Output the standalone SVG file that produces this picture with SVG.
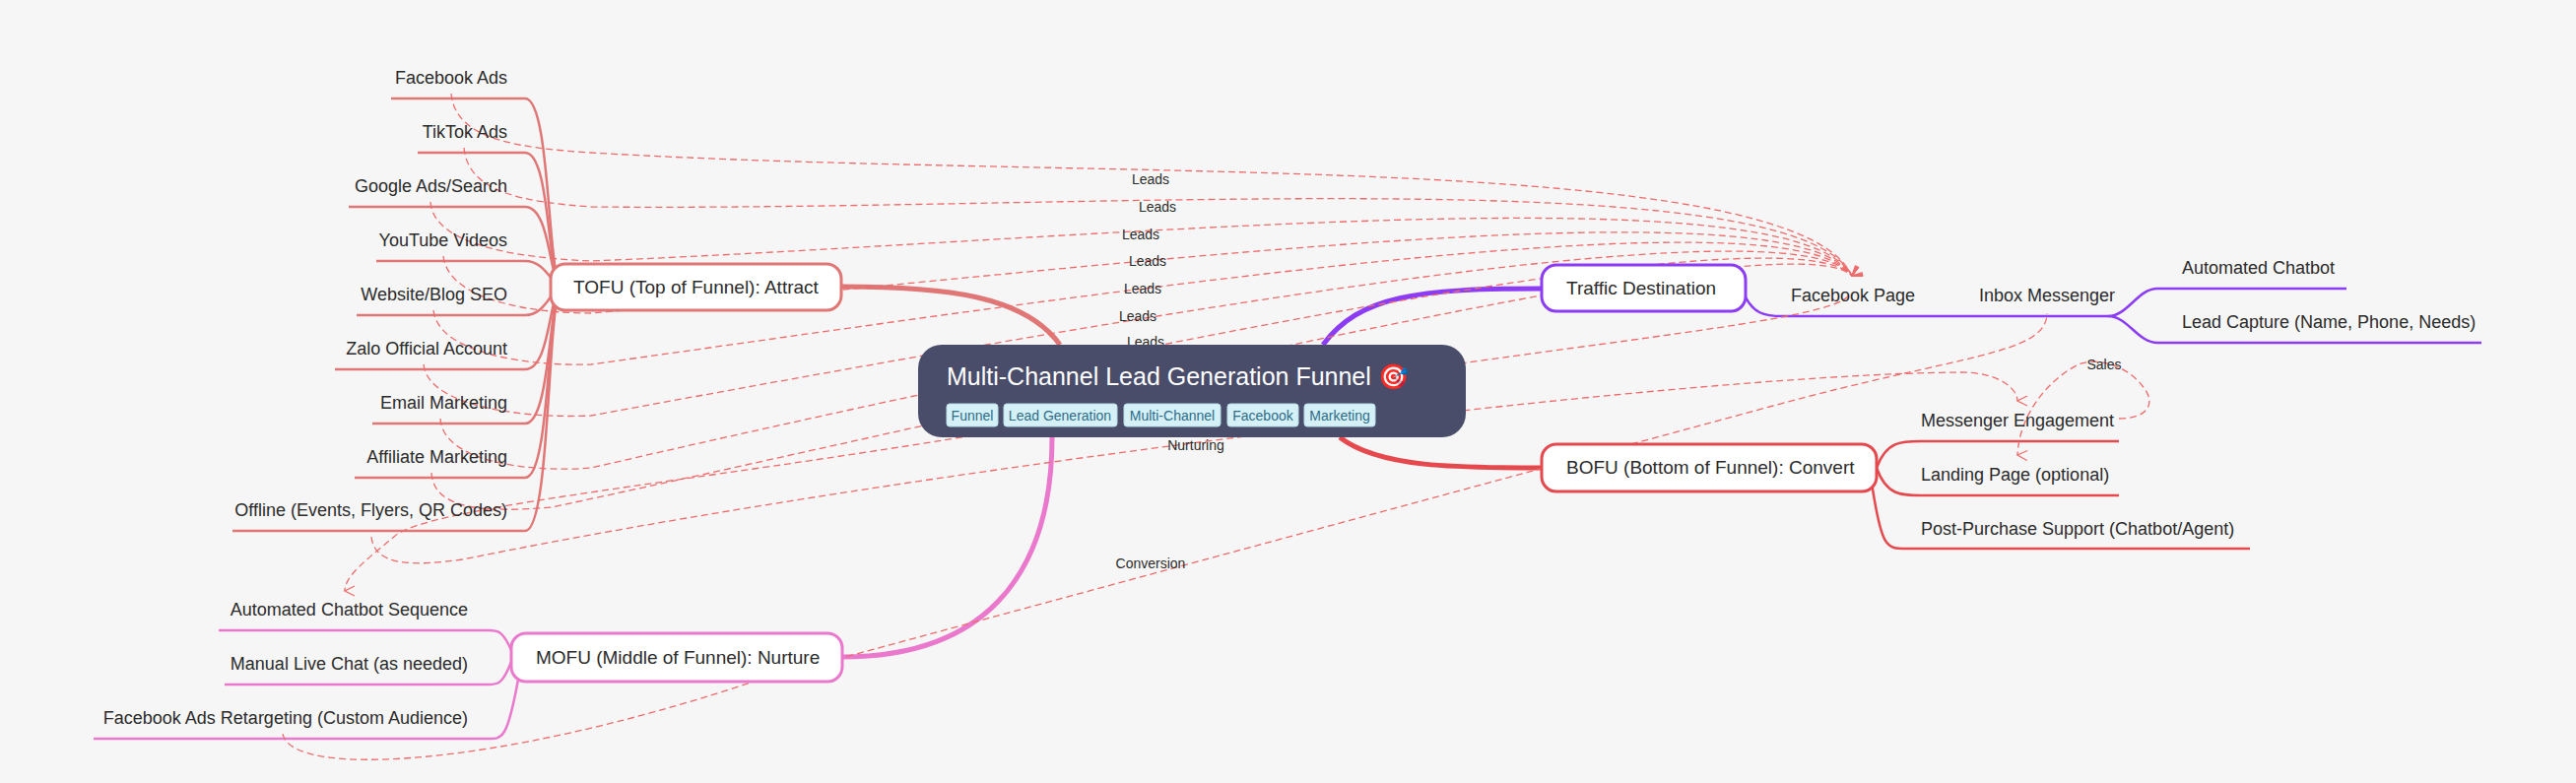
<svg xmlns="http://www.w3.org/2000/svg" width="2615" height="795" viewBox="0 0 2615 795">
<defs>
<marker id="arr" viewBox="0 0 12 12" refX="6" refY="11" markerWidth="12" markerHeight="12" orient="auto-start-reverse" markerUnits="userSpaceOnUse">
<path d="M1,1 L6,11 L11,1" fill="none" stroke="#ef6b6b" stroke-width="1.2"/>
</marker>
<style>
text{font-family:"Liberation Sans",Arial,sans-serif;fill:#2b2b2b}
.k{font-size:18px}
.r{text-anchor:end}
.n{font-size:19px}
.lbl{font-size:14px;text-anchor:middle}
.rel{fill:none;stroke:#ef6b6b;stroke-width:1.3;stroke-dasharray:7 4}
.b{fill:none;stroke-width:2.5}
.w{stroke-width:5}
.t{stroke:#e07676}.p{stroke:#8b3cf4}.d{stroke:#e5484d}.m{stroke:#ea78cc}
.tag{fill:#d5f0f7;stroke:#b9dfe9}
.tt{font-size:14px;fill:#2d6d88}
</style>
</defs>
<rect width="2615" height="795" fill="#f6f6f6"/>
<g id="branches">
<path class="b w t" d="M1076,350 C1040,300 960,291 854,291"/>
<path class="b w p" d="M1343,350 C1380,300 1440,293 1565,293"/>
<path class="b w d" d="M1360,444 C1400,475 1480,475 1565,475"/>
<path class="b w m" d="M1068,444 C1068,560 1020,667 855,667"/>
<path class="b t" d="M571,291 C555,291 560,100 533,100 H397"/>
<path class="b t" d="M571,291 C555,291 560,155 533,155 H424"/>
<path class="b t" d="M571,291 C557,291 560,210 533,210 H354"/>
<path class="b t" d="M571,291 C560,291 555,265 533,265 H382"/>
<path class="b t" d="M571,291 C560,291 555,320 533,320 H362"/>
<path class="b t" d="M571,291 C557,291 560,375 533,375 H340"/>
<path class="b t" d="M571,291 C557,291 560,430 533,430 H378"/>
<path class="b t" d="M571,291 C555,291 560,485 533,485 H360"/>
<path class="b t" d="M571,291 C555,291 560,539 533,539 H236"/>
<path class="b p" d="M1771,300 C1780,318 1790,321 1810,321 H2140 C2160,321 2170,293 2190,293 H2382"/>
<path class="b p" d="M2140,321 C2160,321 2170,348 2190,348 H2519"/>
<path class="b d" d="M1905,475 C1915,448 1930,448 1950,448 H2151"/>
<path class="b d" d="M1905,475 C1915,503 1930,503 1950,503 H2151"/>
<path class="b d" d="M1900,490 C1910,557 1915,557 1935,557 H2284"/>
<path class="b m" d="M519,660 C510,640 505,640 496,640 H222"/>
<path class="b m" d="M519,672 C510,695 505,695 496,695 H228"/>
<path class="b m" d="M526,690 C515,750 510,750 496,750 H95"/>
</g>
<g id="relations">
<path class="rel" marker-end="url(#arr)" d="M458,95 C462,140 520,150 600,155 C1100,185 1820,150 1880,280"/>
<path class="rel" marker-end="url(#arr)" d="M471,150 C475,195 530,205 600,210 C1100,215 1820,160 1880,280"/>
<path class="rel" marker-end="url(#arr)" d="M437,205 C440,250 530,262 600,265 C1100,245 1820,170 1880,280"/>
<path class="rel" marker-end="url(#arr)" d="M450,260 C455,305 540,318 600,318 C1100,275 1820,180 1880,280"/>
<path class="rel" marker-end="url(#arr)" d="M440,315 C445,360 540,372 600,370 C1100,300 1820,190 1880,280"/>
<path class="rel" marker-end="url(#arr)" d="M430,370 C435,415 540,425 600,422 C1100,330 1820,200 1880,280"/>
<path class="rel" marker-end="url(#arr)" d="M447,425 C450,470 540,480 600,475 C1100,360 1820,210 1880,280"/>
<path class="rel" marker-end="url(#arr)" d="M438,480 C440,520 500,520 560,515 C1100,400 1820,220 1880,280"/>
<path class="rel" marker-end="url(#arr)" d="M377,545 C380,575 420,575 470,568 C900,480 1700,380 1990,378 C2030,378 2048,395 2048,407"/>
<path class="rel" marker-end="url(#arr)" d="M1877,300 C1850,330 1600,345 1000,440 C700,490 430,515 400,545 C370,570 350,585 350,600"/>
<path class="rel" d="M287,745 C295,790 500,780 762,693 L1800,412 C1990,360 2078,360 2078,318"/>
<path class="rel" marker-end="url(#arr)" d="M2151,425 C2180,425 2190,410 2175,392 C2160,372 2130,362 2110,370 C2080,385 2050,420 2048,462"/>
<text class="lbl" x="1168" y="187">Leads</text>
<text class="lbl" x="1175" y="215">Leads</text>
<text class="lbl" x="1158" y="243">Leads</text>
<text class="lbl" x="1165" y="270">Leads</text>
<text class="lbl" x="1160" y="298">Leads</text>
<text class="lbl" x="1155" y="326">Leads</text>
<text class="lbl" x="1163" y="352">Leads</text>
<text class="lbl" x="1214" y="457">Nurturing</text>
<text class="lbl" x="1168" y="577">Conversion</text>
<text class="lbl" x="2136" y="375">Sales</text>
</g>
<g id="tofu-children">
<text class="k r" x="515" y="85">Facebook Ads</text>
<text class="k r" x="515" y="140">TikTok Ads</text>
<text class="k r" x="515" y="195">Google Ads/Search</text>
<text class="k r" x="515" y="250">YouTube Videos</text>
<text class="k r" x="515" y="305">Website/Blog SEO</text>
<text class="k r" x="515" y="360">Zalo Official Account</text>
<text class="k r" x="515" y="415">Email Marketing</text>
<text class="k r" x="515" y="470">Affiliate Marketing</text>
<text class="k r" x="515" y="524">Offline (Events, Flyers, QR Codes)</text>
</g>
<g id="mofu-children">
<text class="k r" x="475" y="625">Automated Chatbot Sequence</text>
<text class="k r" x="475" y="680">Manual Live Chat (as needed)</text>
<text class="k r" x="475" y="735">Facebook Ads Retargeting (Custom Audience)</text>
</g>
<g id="traffic-children">
<text class="k" x="1818" y="306">Facebook Page</text>
<text class="k" x="2009" y="306">Inbox Messenger</text>
<text class="k" x="2215" y="278">Automated Chatbot</text>
<text class="k" x="2215" y="333">Lead Capture (Name, Phone, Needs)</text>
</g>
<g id="bofu-children">
<text class="k" x="1950" y="433">Messenger Engagement</text>
<text class="k" x="1950" y="488">Landing Page (optional)</text>
<text class="k" x="1950" y="543">Post-Purchase Support (Chatbot/Agent)</text>
</g>
<g id="center">
<rect x="932" y="350" width="556" height="94" rx="24" fill="#4a4d69"/>
<text x="961" y="391" font-size="25" style="fill:#ffffff">Multi-Channel Lead Generation Funnel 🎯</text>
<rect class="tag" x="961" y="410" width="52" height="23" rx="3"/>
<text class="tt" x="987" y="427" text-anchor="middle">Funnel</text>
<rect class="tag" x="1019" y="410" width="115" height="23" rx="3"/>
<text class="tt" x="1076" y="427" text-anchor="middle">Lead Generation</text>
<rect class="tag" x="1141" y="410" width="98" height="23" rx="3"/>
<text class="tt" x="1190" y="427" text-anchor="middle">Multi-Channel</text>
<rect class="tag" x="1246" y="410" width="72" height="23" rx="3"/>
<text class="tt" x="1282" y="427" text-anchor="middle">Facebook</text>
<rect class="tag" x="1324" y="410" width="72" height="23" rx="3"/>
<text class="tt" x="1360" y="427" text-anchor="middle">Marketing</text>
</g>
<g id="tofu">
<rect x="559" y="268" width="295" height="47" rx="15" fill="#fff" stroke="#e07676" stroke-width="3"/>
<text class="n" x="582" y="298">TOFU (Top of Funnel): Attract</text>
</g>
<g id="traffic">
<rect x="1565" y="269" width="207" height="47" rx="15" fill="#fff" stroke="#8b3cf4" stroke-width="3"/>
<text class="n" x="1590" y="299">Traffic Destination</text>
</g>
<g id="bofu">
<rect x="1565" y="451" width="340" height="48" rx="15" fill="#fff" stroke="#e5484d" stroke-width="3"/>
<text class="n" x="1590" y="481">BOFU (Bottom of Funnel): Convert</text>
</g>
<g id="mofu">
<rect x="519" y="643" width="336" height="49" rx="15" fill="#fff" stroke="#ea78cc" stroke-width="3"/>
<text class="n" x="544" y="674">MOFU (Middle of Funnel): Nurture</text>
</g>
</svg>
